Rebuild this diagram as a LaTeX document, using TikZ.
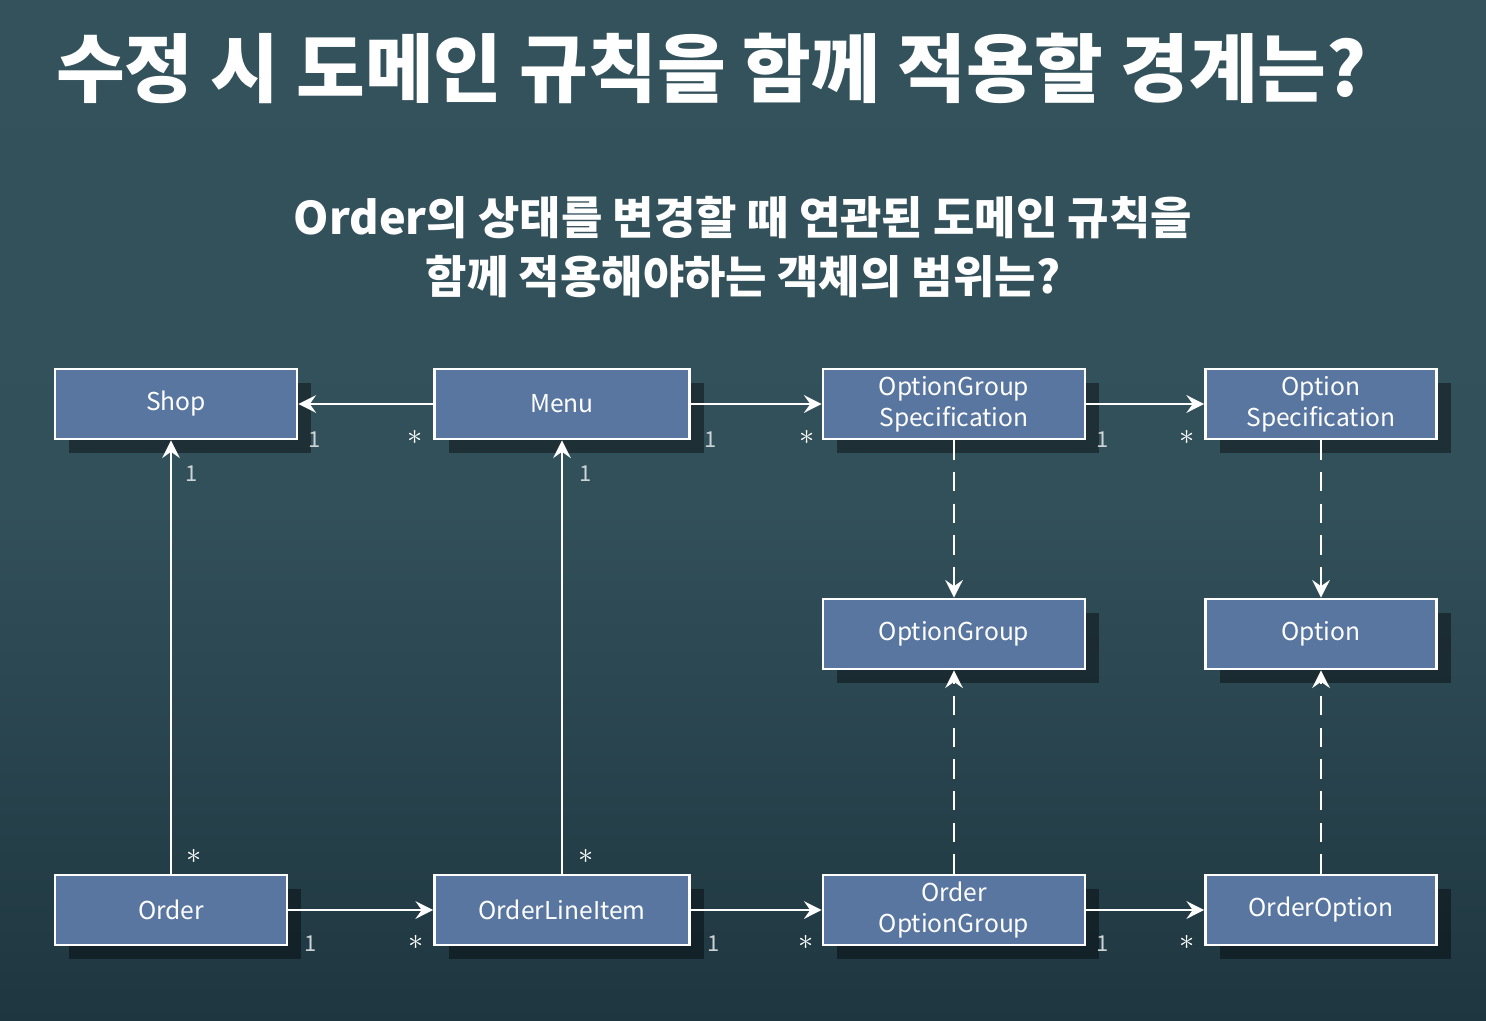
\documentclass[tikz,border=0pt]{standalone}
\usepackage{fontspec}
\setmainfont{Noto Sans CJK KR}
\usetikzlibrary{arrows.meta,shadows}

\definecolor{boxblue}{RGB}{88,118,160}
\definecolor{bgtop}{RGB}{52,82,92}
\definecolor{bgmid}{RGB}{50,80,90}
\definecolor{bgbot}{RGB}{30,54,64}
\definecolor{multgray}{RGB}{205,212,216}

\tikzset{
  cls/.style={draw=white, line width=1.6pt, fill=boxblue, text=white, minimum height=1.4cm,
    align=center, inner sep=0pt, font=\fontsize{14}{17.5}\selectfont,
    drop shadow={shadow xshift=8pt, shadow yshift=-8pt, opacity=0.4, fill=black}},
  assoc/.style={draw=white, line width=1.6pt, -{Stealth[length=10pt,width=10pt,inset=3.5pt]}},
  dep/.style={assoc, dash pattern=on 11pt off 7pt},
  mult/.style={inner sep=0pt, font=\fontsize{12.5}{12.5}\selectfont},
  star/.style={inner sep=0pt, text=white, font=\fontsize{19}{19}\selectfont}
}

\begin{document}
\begin{tikzpicture}[x=0.02cm,y=-0.02cm]

% Background
\fill[top color=bgtop, bottom color=bgbot, middle color=bgmid] (0,0) rectangle (1486,1020);
\useasboundingbox (0,0) rectangle (1486,1020);

% Title
\node[anchor=west, text=white, font=\fontsize{42.5}{42.5}\bfseries] (title) at (50,68) {수정 시 도메인 규칙을 함께 적용할 경계는?};
\node[text=white, align=center, font=\fontsize{25.6}{34}\bfseries] (subtitle) at (743,247)
  {Order의 상태를 변경할 때 연관된 도메인 규칙을\\함께 적용해야하는 객체의 범위는?};

% Top row
\node[cls, minimum width=4.84cm] (shop) at (176,404) {Shop};
\node[cls, minimum width=5.1cm] (menu) at (562,404) {Menu};
\node[cls, minimum width=5.24cm] (ogspec) at (954,404) {OptionGroup\\Specification};
\node[cls, minimum width=4.62cm] (ospec) at (1321,404) {Option\\Specification};

% Middle row
\node[cls, minimum width=5.24cm] (ogroup) at (954,634) {OptionGroup};
\node[cls, minimum width=4.62cm] (option) at (1321,634) {Option};

% Bottom row
\node[cls, minimum width=4.64cm] (order) at (171,910) {Order};
\node[cls, minimum width=5.1cm] (lineitem) at (562,910) {OrderLineItem};
\node[cls, minimum width=5.24cm] (oogroup) at (954,910) {Order\\OptionGroup};
\node[cls, minimum width=4.62cm] (ooption) at (1321,910) {OrderOption};

% Associations
\draw[assoc] (menu) -- (shop);
\draw[assoc] (menu) -- (ogspec);
\draw[assoc] (ogspec) -- (ospec);
\draw[assoc] (order.north) -- (order.north |- shop.south);
\draw[assoc] (lineitem) -- (menu);
\draw[assoc] (order) -- (order -| lineitem.west);
\draw[assoc] (lineitem) -- (oogroup);
\draw[assoc] (oogroup) -- (ooption);

% Dependencies
\draw[dep] (ogspec) -- (ogroup);
\draw[dep] (ospec) -- (option);
\draw[dep] (oogroup) -- (ogroup);
\draw[dep] (ooption) -- (option);

% Multiplicities
\node[mult, text=multgray] (m1) at (315,440) {1};
\node[star] (m2) at (415,437) {$\ast$};
\node[mult, text=multgray] (m3) at (711,440) {1};
\node[star] (m4) at (807,437) {$\ast$};
\node[mult, text=multgray] (m5) at (1103,440) {1};
\node[star] (m6) at (1187,437) {$\ast$};
\node[mult, text=multgray] (m7) at (192,474) {1};
\node[star] (m8) at (194,856) {$\ast$};
\node[mult, text=multgray] (m9) at (586,474) {1};
\node[star] (m10) at (586,856) {$\ast$};
\node[mult, text=multgray] (m11) at (311,944) {1};
\node[star] (m12) at (416,942) {$\ast$};
\node[mult, text=multgray] (m13) at (714,944) {1};
\node[star] (m14) at (806,942) {$\ast$};
\node[mult, text=multgray] (m15) at (1103,944) {1};
\node[star] (m16) at (1187,942) {$\ast$};

\end{tikzpicture}
\end{document}
